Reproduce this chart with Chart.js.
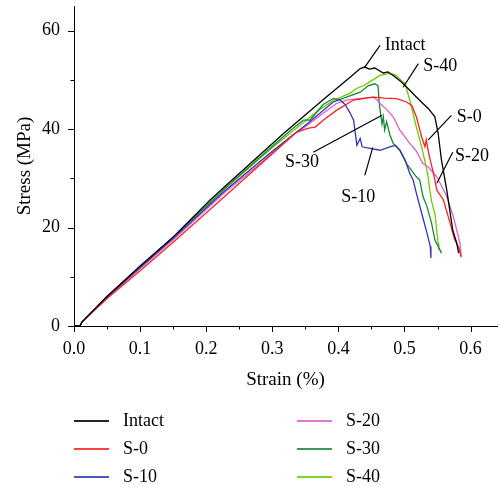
<!DOCTYPE html>
<html>
<head>
<meta charset="utf-8">
<script src="https://cdn.jsdelivr.net/npm/chart.js@4.4.1/dist/chart.umd.min.js"></script>
<style>
  html, body { margin: 0; padding: 0; background: #fff; }
  #wrap { width: 500px; height: 487px; }
</style>
</head>
<body>
<div id="wrap"><canvas id="chart" width="500" height="487"></canvas></div>
<script>
// Stress-strain curves, values
const seriesNames = ['Intact', 'S-0', 'S-10', 'S-20', 'S-30', 'S-40'];

const intactStrain = [0, 0.009, 0.012, 0.05, 0.10, 0.151, 0.206, 0.227, 0.317, 0.38, 0.42, 0.433, 0.44, 0.447, 0.455, 0.468, 0.475, 0.483, 0.495, 0.505, 0.518, 0.528, 0.536, 0.546, 0.551, 0.556, 0.564, 0.573, 0.579, 0.582];
const intactStress = [0, 0, 0.8, 6.0, 12.2, 18.2, 25.6, 28.2, 39.1, 46.3, 50.8, 52.3, 52.6, 52.2, 52.4, 51.4, 51.6, 50.9, 49.6, 48.3, 46.5, 45.2, 44.2, 42.5, 39.1, 33.7, 27.6, 19.5, 16.9, 14.8];

const s0Strain = [0, 0.009, 0.012, 0.05, 0.10, 0.15, 0.227, 0.312, 0.337, 0.355, 0.365, 0.377, 0.397, 0.423, 0.453, 0.47, 0.488, 0.503, 0.511, 0.518, 0.526, 0.531, 0.533, 0.536, 0.539, 0.544, 0.549, 0.559, 0.569, 0.576, 0.582, 0.586];
const s0Stress = [0, 0, 0.8, 5.6, 11.2, 17.0, 26.2, 36.4, 39.4, 40.2, 40.4, 41.8, 43.8, 45.9, 46.5, 46.3, 46.2, 45.5, 44.8, 42.5, 38.4, 36.4, 37.8, 35.5, 33.7, 31.0, 27.6, 25.6, 20.9, 17.5, 16.0, 14.0];

const s10Strain = [0, 0.009, 0.012, 0.05, 0.10, 0.15, 0.227, 0.30, 0.35, 0.372, 0.392, 0.402, 0.41, 0.418, 0.423, 0.425, 0.428, 0.433, 0.436, 0.448, 0.463, 0.478, 0.486, 0.493, 0.501, 0.508, 0.513, 0.518, 0.526, 0.534, 0.539, 0.540];
const s10Stress = [0, 0, 0.8, 5.9, 11.9, 17.8, 27.3, 35.5, 40.8, 43.2, 45.5, 46.0, 45.0, 43.2, 41.8, 39.8, 36.7, 38.1, 36.4, 36.1, 35.7, 36.4, 36.7, 35.7, 33.7, 31.0, 29.7, 27.0, 22.9, 18.9, 16.2, 13.8];

const s20Strain = [0, 0.009, 0.012, 0.05, 0.10, 0.15, 0.227, 0.28, 0.327, 0.35, 0.377, 0.397, 0.413, 0.43, 0.453, 0.458, 0.463, 0.473, 0.483, 0.493, 0.508, 0.518, 0.528, 0.536, 0.549, 0.564, 0.574, 0.584, 0.586];
const s20Stress = [0, 0, 0.8, 5.8, 11.7, 17.5, 27.0, 32.8, 38.4, 40.5, 43.2, 45.2, 45.9, 46.2, 46.5, 46.0, 45.2, 44.0, 42.5, 39.8, 37.1, 35.5, 33.0, 32.3, 30.3, 26.3, 22.2, 16.8, 14.1];

const s30Strain = [0, 0.009, 0.012, 0.05, 0.10, 0.15, 0.227, 0.30, 0.33, 0.347, 0.357, 0.362, 0.377, 0.392, 0.402, 0.433, 0.445, 0.455, 0.46, 0.462, 0.464, 0.466, 0.468, 0.47, 0.473, 0.478, 0.483, 0.493, 0.503, 0.518, 0.523, 0.528, 0.534, 0.541, 0.546, 0.556];
const s30Stress = [0, 0, 0.8, 6.0, 12.0, 18.0, 27.8, 36.5, 40.0, 41.8, 41.8, 42.6, 45.0, 46.2, 46.0, 47.5, 48.8, 49.2, 48.8, 45.0, 43.0, 41.0, 42.5, 39.8, 41.5, 38.8, 37.1, 35.7, 33.0, 30.3, 29.7, 26.3, 24.3, 20.9, 17.5, 14.8];

const s40Strain = [0, 0.009, 0.012, 0.05, 0.10, 0.15, 0.227, 0.30, 0.342, 0.37, 0.392, 0.418, 0.428, 0.438, 0.45, 0.463, 0.478, 0.486, 0.493, 0.501, 0.508, 0.518, 0.526, 0.535, 0.539, 0.541, 0.546, 0.551, 0.552];
const s40Stress = [0, 0, 0.8, 6.0, 12.1, 18.0, 27.7, 36.2, 40.8, 43.8, 45.8, 47.3, 48.3, 48.8, 49.8, 50.9, 51.3, 51.0, 50.2, 49.2, 45.9, 40.4, 36.4, 31.0, 27.0, 25.3, 22.9, 16.8, 15.5];

const seriesColors = ['#000000', '#ff1f1f', '#3434b8', '#d860cc', '#16883a', '#6ccc00'];

const xTickValues = [0, 0.1, 0.2, 0.3, 0.4, 0.5, 0.6];
const xMinorValues = [0.05, 0.15, 0.25, 0.35, 0.45, 0.55];
const yTickValues = [0, 20, 40, 60];
const yMinorValues = [10, 30, 50];

// curve labels on the plot, in data units: text centre, then leader line end points
const curveLabels = ['Intact', 'S-40', 'S-0', 'S-20', 'S-30', 'S-10'];
const labelAt = [[0.501, 57.0], [0.554, 52.8], [0.598, 42.4], [0.602, 34.5], [0.345, 33.3], [0.430, 26.2]];
const leaderFrom = [[0.440, 52.6], [0.498, 48.5], [0.536, 37.8], [0.549, 29.0], [0.362, 35.3], [0.440, 30.6]];
const leaderTo = [[0.463, 57.0], [0.521, 53.3], [0.571, 42.8], [0.573, 35.3], [0.466, 42.8], [0.452, 36.3]];

const serif = "'Liberation Serif', 'DejaVu Serif', serif";

const allStrain = [intactStrain, s0Strain, s10Strain, s20Strain, s30Strain, s40Strain];
const allStress = [intactStress, s0Stress, s10Stress, s20Stress, s30Stress, s40Stress];

const datasets = seriesNames.map((name, i) => ({
  label: name,
  data: allStrain[i].map((x, j) => ({ x: x, y: allStress[i][j] })),
  borderColor: seriesColors[i],
  backgroundColor: seriesColors[i],
  borderWidth: 1.3,
  showLine: true,
  pointRadius: 0,
  tension: 0
}));

// tick marks (major + minor), curve labels and the two-column legend
const decorPlugin = {
  id: 'decor',
  afterDraw(chart) {
    const ctx = chart.ctx;
    const xs = chart.scales.x, ys = chart.scales.y;
    const area = chart.chartArea;
    ctx.save();
    ctx.strokeStyle = '#000';
    ctx.lineWidth = 1;
    ctx.beginPath();
    xTickValues.forEach(v => { const p = Math.round(xs.getPixelForValue(v)) + 0.5; ctx.moveTo(p, area.bottom); ctx.lineTo(p, area.bottom + 6); });
    xMinorValues.forEach(v => { const p = Math.round(xs.getPixelForValue(v)) + 0.5; ctx.moveTo(p, area.bottom); ctx.lineTo(p, area.bottom + 3.5); });
    yTickValues.forEach(v => { const p = Math.round(ys.getPixelForValue(v)) + 0.5; ctx.moveTo(area.left, p); ctx.lineTo(area.left - 6, p); });
    yMinorValues.forEach(v => { const p = Math.round(ys.getPixelForValue(v)) + 0.5; ctx.moveTo(area.left, p); ctx.lineTo(area.left - 3.5, p); });
    ctx.stroke();

    // curve labels
    ctx.font = '18px ' + serif;
    ctx.fillStyle = '#000';
    ctx.textAlign = 'center';
    ctx.textBaseline = 'middle';
    ctx.lineWidth = 1.2;
    curveLabels.forEach((t, i) => {
      ctx.beginPath();
      ctx.moveTo(xs.getPixelForValue(leaderFrom[i][0]), ys.getPixelForValue(leaderFrom[i][1]));
      ctx.lineTo(xs.getPixelForValue(leaderTo[i][0]), ys.getPixelForValue(leaderTo[i][1]));
      ctx.stroke();
      ctx.fillText(t, xs.getPixelForValue(labelAt[i][0]), ys.getPixelForValue(labelAt[i][1]));
    });

    // legend: 3 rows x 2 columns, filled column by column
    ctx.textAlign = 'left';
    ctx.lineWidth = 2;
    chart.data.datasets.forEach((ds, i) => {
      const col = Math.floor(i / 3), row = i % 3;
      const x0 = area.left + col * 223;
      const y = area.bottom + 95 + row * 28;
      ctx.strokeStyle = ds.borderColor;
      ctx.globalAlpha = 0.85;
      ctx.beginPath();
      ctx.moveTo(x0, y);
      ctx.lineTo(x0 + 35, y);
      ctx.stroke();
      ctx.globalAlpha = 1;
      ctx.fillText(ds.label, x0 + 49, y);
    });
    ctx.restore();
  }
};

new Chart(document.getElementById('chart'), {
  type: 'scatter',
  data: { datasets: datasets },
  plugins: [decorPlugin],
  options: {
    responsive: false,
    animation: false,
    layout: { padding: { left: 0, right: 3, top: 6, bottom: 96 } },
    plugins: {
      legend: { display: false },
      tooltip: { enabled: false }
    },
    scales: {
      x: {
        type: 'linear',
        min: 0,
        max: 0.64,
        afterFit: (scale) => { scale.height = 65; scale.paddingLeft = 0; scale.paddingRight = 0; },
        afterBuildTicks: (scale) => { scale.ticks = xTickValues.map(v => ({ value: v })); },
        grid: { display: false, drawTicks: false },
        border: { display: true, color: '#000', width: 1 },
        ticks: {
          color: '#000',
          padding: 12,
          maxRotation: 0,
          font: { family: serif, size: 18 },
          callback: (v) => Number(v).toFixed(1)
        },
        title: {
          display: true,
          text: 'Strain (%)',
          color: '#000',
          font: { family: serif, size: 19 },
          padding: { top: 0, bottom: 0 }
        }
      },
      y: {
        type: 'linear',
        min: 0,
        max: 65,
        afterFit: (scale) => { scale.width = 74; scale.paddingTop = 0; scale.paddingBottom = 0; },
        afterBuildTicks: (scale) => { scale.ticks = yTickValues.map(v => ({ value: v })); },
        grid: { display: false, drawTicks: false },
        border: { display: true, color: '#000', width: 1 },
        ticks: {
          color: '#000',
          padding: 14,
          font: { family: serif, size: 18 }
        },
        title: {
          display: true,
          text: 'Stress (MPa)',
          color: '#000',
          font: { family: serif, size: 19 },
          padding: { top: 14, bottom: 0 }
        }
      }
    }
  }
});
</script>
</body>
</html>
